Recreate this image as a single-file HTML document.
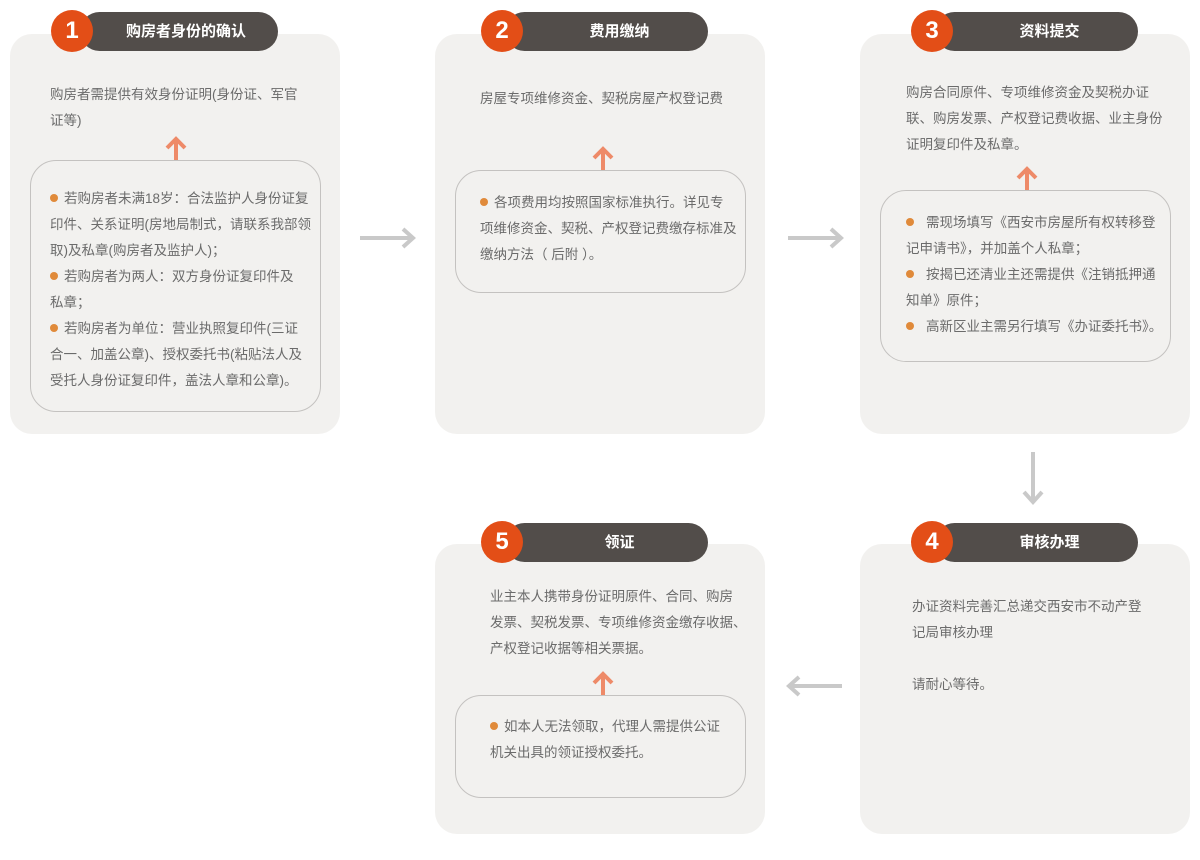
<!DOCTYPE html>
<html><head><meta charset="utf-8"><style>
*{margin:0;padding:0;box-sizing:border-box}
body{width:1200px;height:860px;background:#fff;position:relative;overflow:hidden;font-family:"Liberation Sans","Noto Sans CJK SC",sans-serif;color:#6b6b6b}
.card{position:absolute;background:#f2f1ef;border-radius:22px}
.pill{position:absolute;height:39px;background:#524d4a;border-radius:20px;color:#fff;font-weight:bold;font-size:15px;line-height:39px;text-align:center}
.num{position:absolute;width:42px;height:42px;border-radius:50%;background:#e34e17;color:#fff;font-size:24px;font-weight:bold;line-height:42px;text-align:center}
.t{position:absolute;font-size:13.5px;line-height:26px;white-space:nowrap;color:#6b6b6b}
.box{position:absolute;border:1px solid #c4c2c0;border-radius:26px}
.d{display:inline-block;width:8px;height:8px;border-radius:50%;background:#e08a3a;margin-right:6px;vertical-align:1px}
svg{position:absolute;left:0;top:0}
</style></head><body>
<div class="card" style="left:10px;top:34px;width:330px;height:400px"></div>
<div class="card" style="left:435px;top:34px;width:330px;height:400px"></div>
<div class="card" style="left:860px;top:34px;width:330px;height:400px"></div>
<div class="card" style="left:435px;top:544px;width:330px;height:290px"></div>
<div class="card" style="left:860px;top:544px;width:330px;height:290px"></div>

<div class="pill" style="left:80px;top:12px;width:198px;padding-left:14px">购房者身份的确认</div>
<div class="num" style="left:51px;top:10px">1</div>
<div class="pill" style="left:505px;top:12px;width:203px;padding-left:26px">费用缴纳</div>
<div class="num" style="left:481px;top:10px">2</div>
<div class="pill" style="left:935px;top:12px;width:203px;padding-left:26px">资料提交</div>
<div class="num" style="left:911px;top:10px">3</div>
<div class="pill" style="left:505px;top:523px;width:203px;padding-left:26px">领证</div>
<div class="num" style="left:481px;top:521px">5</div>
<div class="pill" style="left:935px;top:523px;width:203px;padding-left:26px">审核办理</div>
<div class="num" style="left:911px;top:521px">4</div>

<div class="box" style="left:30px;top:160px;width:291px;height:252px"></div>
<div class="box" style="left:455px;top:170px;width:291px;height:123px"></div>
<div class="box" style="left:880px;top:190px;width:291px;height:172px"></div>
<div class="box" style="left:455px;top:695px;width:291px;height:103px"></div>

<div class="t" style="left:50px;top:82px">购房者需提供有效身份证明(身份证、军官<br>证等)</div>
<div class="t" style="left:50px;top:186px"><span class="d"></span>若购房者未满18岁：合法监护人身份证复<br>印件、关系证明(房地局制式，请联系我部领<br>取)及私章(购房者及监护人)；<br><span class="d"></span>若购房者为两人：双方身份证复印件及<br>私章；<br><span class="d"></span>若购房者为单位：营业执照复印件(三证<br>合一、加盖公章)、授权委托书(粘贴法人及<br>受托人身份证复印件，盖法人章和公章)。</div>

<div class="t" style="left:480px;top:86px">房屋专项维修资金、契税房屋产权登记费</div>
<div class="t" style="left:480px;top:190px"><span class="d"></span>各项费用均按照国家标准执行。详见专<br>项维修资金、契税、产权登记费缴存标准及<br>缴纳方法（ 后附 ）。</div>

<div class="t" style="left:906px;top:80px">购房合同原件、专项维修资金及契税办证<br>联、购房发票、产权登记费收据、业主身份<br>证明复印件及私章。</div>
<div class="t" style="left:906px;top:210px"><span class="d" style="margin-right:12px"></span>需现场填写《西安市房屋所有权转移登<br>记申请书》，并加盖个人私章；<br><span class="d" style="margin-right:12px"></span>按揭已还清业主还需提供《注销抵押通<br>知单》原件；<br><span class="d" style="margin-right:12px"></span>高新区业主需另行填写《办证委托书》。</div>

<div class="t" style="left:912px;top:594px">办证资料完善汇总递交西安市不动产登<br>记局审核办理<br><br>请耐心等待。</div>

<div class="t" style="left:490px;top:584px">业主本人携带身份证明原件、合同、购房<br>发票、契税发票、专项维修资金缴存收据、<br>产权登记收据等相关票据。</div>
<div class="t" style="left:490px;top:714px"><span class="d"></span>如本人无法领取，代理人需提供公证<br>机关出具的领证授权委托。</div>

<svg width="1200" height="860" viewBox="0 0 1200 860">
<g stroke="#ee8a68" stroke-width="4" fill="none">
<path d="M176 160V139M167 148L176 139L185 148"/>
<path d="M603 170V149M594 158L603 149L612 158"/>
<path d="M1027 190V169M1018 178L1027 169L1036 178"/>
<path d="M603 695V674M594 683L603 674L612 683"/>
</g>
<g stroke="#c9c9c9" stroke-width="4" fill="none">
<path d="M360 238H413M403 229L413 238L403 247"/>
<path d="M788 238H841M831 229L841 238L831 247"/>
<path d="M1033 452V502M1024 492L1033 502L1042 492"/>
<path d="M842 686H789M799 677L789 686L799 695"/>
</g>
</svg>
</body></html>
